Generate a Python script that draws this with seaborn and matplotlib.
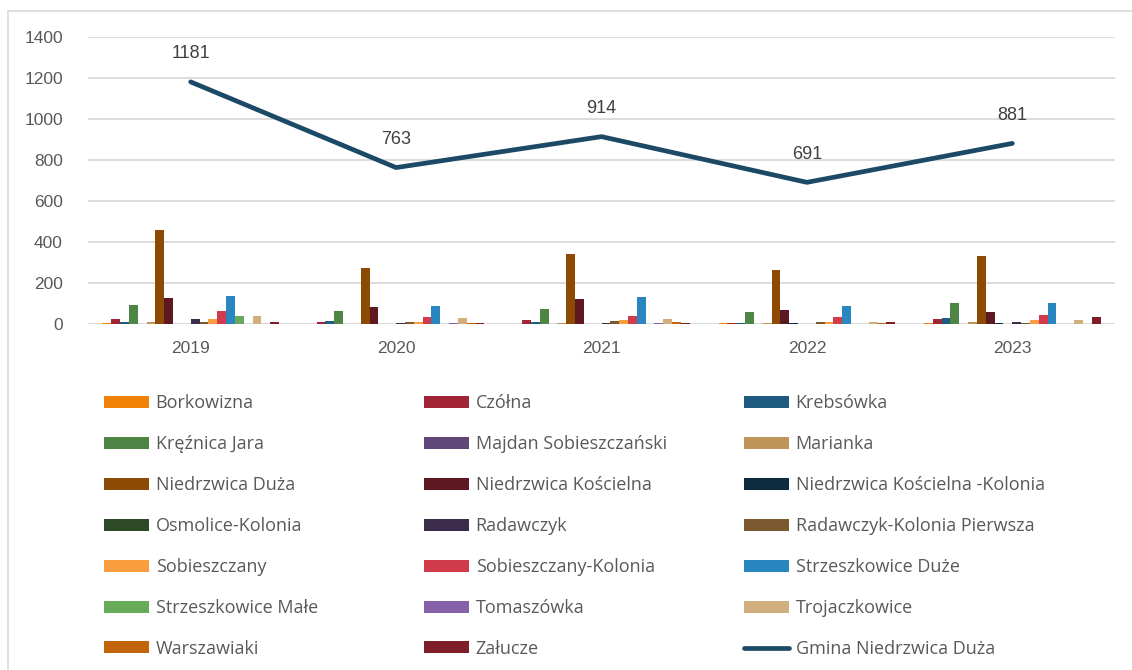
import numpy as np
import pandas as pd
import matplotlib
matplotlib.use("Agg")
import matplotlib.pyplot as plt
import seaborn as sns
from matplotlib.patches import Patch, Rectangle
from matplotlib.lines import Line2D

years = ["2019", "2020", "2021", "2022", "2023"]

villages = ["Borkowizna", "Czółna", "Krebsówka", "Kręźnica Jara",
            "Majdan Sobieszczański", "Marianka", "Niedrzwica Duża",
            "Niedrzwica Kościelna", "Niedrzwica Kościelna -Kolonia",
            "Osmolice-Kolonia", "Radawczyk", "Radawczyk-Kolonia Pierwsza",
            "Sobieszczany", "Sobieszczany-Kolonia", "Strzeszkowice Duże",
            "Strzeszkowice Małe", "Tomaszówka", "Trojaczkowice",
            "Warszawiaki", "Załucze"]

# values per village, one per year 2019..2023
borkowizna = [5, 0, 0, 3, 5]
czolna = [24, 8, 19, 3, 23]
krebsowka = [11, 15, 11, 3, 28]
kreznica_jara = [91, 65, 73, 60, 102]
majdan = [0, 0, 0, 0, 0]
marianka = [11, 0, 5, 3, 11]
niedrzwica_duza = [458, 275, 340, 263, 330]
niedrzwica_koscielna = [125, 81, 120, 70, 58]
nk_kolonia = [0, 0, 0, 3, 5]
osmolice = [0, 0, 0, 0, 0]
radawczyk = [24, 3, 5, 0, 11]
radawczyk_kp = [11, 10, 13, 10, 5]
sobieszczany = [23, 8, 18, 8, 18]
sobieszczany_k = [63, 36, 39, 36, 44]
strzeszkowice_d = [135, 88, 130, 88, 102]
strzeszkowice_m = [39, 0, 0, 0, 0]
tomaszowka = [0, 3, 5, 0, 0]
trojaczkowice = [39, 31, 23, 8, 18]
warszawiaki = [0, 3, 11, 3, 0]
zalucze = [11, 3, 5, 10, 34]

gmina_name = "Gmina Niedrzwica Duża"
gmina = [1181, 763, 914, 691, 881]

series = [borkowizna, czolna, krebsowka, kreznica_jara, majdan, marianka,
          niedrzwica_duza, niedrzwica_koscielna, nk_kolonia, osmolice,
          radawczyk, radawczyk_kp, sobieszczany, sobieszczany_k,
          strzeszkowice_d, strzeszkowice_m, tomaszowka, trojaczkowice,
          warszawiaki, zalucze]

colors = ["#F08208", "#A12535", "#1F5A80", "#4E8544", "#5F4878", "#C0955A",
          "#8C4A05", "#5E1820", "#0F2B40", "#2B4A25", "#3A2C4A", "#7A5A2E",
          "#F99D3E", "#D13B4B", "#2A86C0", "#67AB5A", "#8660A8", "#D0AE7E",
          "#C2640A", "#7E1E28"]
line_color = "#1C4A66"

rows = []
for name, vals in zip(villages, series):
    for y, v in zip(years, vals):
        rows.append({"rok": y, "miejscowosc": name, "wartosc": v})
df = pd.DataFrame(rows)

sns.set_style("white")
plt.rcParams["font.family"] = ["Liberation Sans", "DejaVu Sans"]

fig = plt.figure(figsize=(11.32, 6.70), dpi=100)
ax = fig.add_axes([88 / 1132, 1 - 324 / 670, (1115 - 88) / 1132, (324 - 37) / 670])

sns.barplot(data=df, x="rok", y="wartosc", hue="miejscowosc", order=years,
            hue_order=villages, palette=dict(zip(villages, colors)),
            saturation=1, width=0.86, gap=0, linewidth=0, legend=False, ax=ax)

xs = np.arange(len(years))
sns.lineplot(x=xs, y=gmina, color=line_color, linewidth=3.4, ax=ax,
             solid_capstyle="round", legend=False)
for x, v in zip(xs, gmina):
    ax.text(x, v + 95, str(v), ha="center", va="bottom", fontsize=13,
            color="#404040")

ax.set_xlim(-0.5, len(years) - 0.5)
ax.set_ylim(0, 1400)
ax.set_yticks(range(0, 1401, 200))
ax.grid(axis="y", color="#D9D9D9", linewidth=1.3)
ax.set_axisbelow(True)
for s in ax.spines.values():
    s.set_visible(False)
ax.set_xlabel("")
ax.set_ylabel("")
ax.tick_params(axis="both", length=0, labelsize=12.5, colors="#595959")
ax.tick_params(axis="x", pad=12)
ax.tick_params(axis="y", pad=18)

# outer chart frame
fig.add_artist(Rectangle((8 / 1132, -0.05), 1.2, 1 - 11 / 670 + 0.05,
                         transform=fig.transFigure, fill=False,
                         edgecolor="#D9D9D9", linewidth=1.2))

# legend in three columns, filled row by row
handles = [Patch(facecolor=c, edgecolor="none") for c in colors]
handles.append(Line2D([0], [0], color=line_color, linewidth=3.4,
                      solid_capstyle="round"))
labels = villages + [gmina_name]
col_x = [97, 417, 737]
for i in range(3):
    fig.legend(handles[i::3], labels[i::3], loc="upper left",
               bbox_to_anchor=(col_x[i] / 1132, 1 - 387 / 670),
               frameon=False, ncol=1, handlelength=2.5, handleheight=0.65,
               handletextpad=0.35, labelspacing=1.27, borderaxespad=0,
               prop={"family": ["Open Sans", "DejaVu Sans"], "size": 13},
               labelcolor="#595959")

fig.savefig("out.png", dpi=100)
